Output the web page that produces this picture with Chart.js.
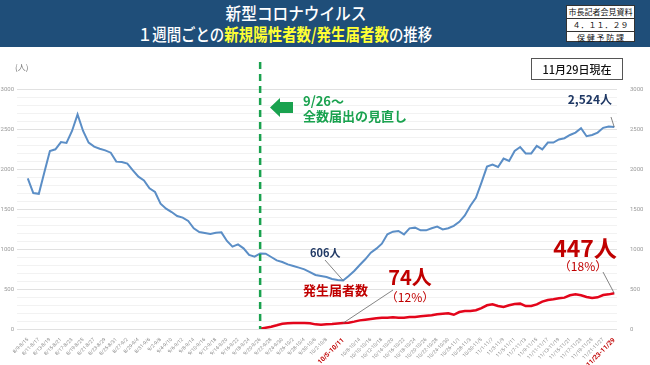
<!DOCTYPE html>
<html>
<head>
<meta charset="utf-8">
<script src="https://cdn.jsdelivr.net/npm/chart.js@4"></script>
<style>
  html, body { margin: 0; padding: 0; background: #fff; }
  body { width: 650px; height: 365px; position: relative; overflow: hidden; font-family: "Noto Sans CJK JP", sans-serif; }
  #banner { position: absolute; left: 0; top: 0; width: 650px; height: 47px; background: #1f4e79; }
  .t { position: absolute; width: 400px; text-align: center; color: #fff; white-space: nowrap; }
  .t1 { left: 96px; top: 2px; font-size: 17px; line-height: 22px; font-weight: 500; transform: scaleX(0.92); }
  .t2 { left: 85px; top: 23px; font-size: 17px; line-height: 22px; font-weight: 500; transform: scaleX(0.85); }
  .t2 b { color: #ffff33; font-weight: 700; }
  #src { position: absolute; left: 566px; top: 5px; width: 69px; height: 37px; background: #fff; border: 1px solid #333; box-sizing: border-box; }
  #src div { height: 12px; line-height: 12px; font-size: 8px; text-align: center; color: #111; border-bottom: 1px solid #333; }
  #src div:last-child { border-bottom: none; }
  #asof { position: absolute; left: 531px; top: 58px; width: 92px; height: 22px; border: 1px solid #555; box-sizing: border-box; font-size: 11px; line-height: 20px; text-align: center; color: #111; font-weight: 500; }
  #unit { position: absolute; left: 15px; top: 61px; font-size: 8px; color: #777; }
  #c { position: absolute; left: 0; top: 0; }
</style>
</head>
<body>
<canvas id="c" width="650" height="365"></canvas>
<div id="banner">
  <div class="t t1">新型コロナウイルス</div>
  <div class="t t2">１週間ごとの<b>新規陽性者数/発生届者数</b>の推移</div>
  <div id="src"><div>市長記者会見資料</div><div>４．１１．２９</div><div>保 健 予 防 課</div></div>
</div>
<div id="asof">11月29日現在</div>
<div id="unit">(人)</div>
<script>
// 1週間ごとの集計(7日間の移動合計)。最初の週は 8/9〜8/15、最後は 11/23〜11/29。
const START_END = new Date(2022, 7, 15);   // 最初の週の末日
const N_DAYS = 107;
const CUTOVER = 42;       // 9/20〜9/26 (全数届出の見直し)
const HILITE = [57, 106]; // 10/5〜10/11, 11/23〜11/29

// 新規陽性者数
const positives = [
  1883, 1700, 1690, 1960, 2225, 2246, 2337, 2325, 2475, 2683,
  2475, 2329, 2279, 2254, 2233, 2204, 2092, 2088, 2067, 1983,
  1904, 1858, 1758, 1712, 1567, 1504, 1462, 1412, 1392, 1350,
  1258, 1212, 1200, 1187, 1204, 1208, 1100, 1029, 1058, 1008,
  925, 904, 945, 941, 900, 858, 837, 808, 787, 767,
  746, 712, 675, 662, 650, 625, 612, 606, 662, 725,
  800, 871, 954, 1004, 1067, 1183, 1217, 1225, 1183, 1258,
  1267, 1233, 1233, 1260, 1280, 1245, 1260, 1290, 1340, 1420,
  1540, 1640, 1830, 2030, 2055, 2025, 2130, 2100, 2225, 2275,
  2195, 2195, 2290, 2245, 2330, 2330, 2370, 2385, 2425, 2455,
  2510, 2410, 2425, 2455, 2515, 2530, 2524
];

// 発生届者数 (9/26〜)
const notified = [
  4, 16, 29, 46, 66, 71, 75, 75, 75, 71,
  58, 54, 58, 62, 68, 74, 79, 92, 108, 117,
  125, 133, 142, 142, 146, 142, 142, 150, 150, 158,
  165, 171, 183, 192, 196, 178, 212, 225, 225, 235,
  262, 296, 308, 287, 275, 296, 312, 317, 287, 287,
  308, 342, 362, 371, 383, 392, 421, 433, 421, 400,
  387, 396, 425, 433, 447
];

const yTicks = [0, 500, 1000, 1500, 2000, 2500, 3000];

function md(d) { return (d.getMonth() + 1) + '/' + d.getDate(); }
const labels = [];
for (let i = 0; i < N_DAYS; i++) {
  const end = new Date(START_END.getTime() + i * 86400000);
  const beg = new Date(end.getTime() - 6 * 86400000);
  labels.push(md(beg) + '-' + md(end));
}
const notifiedFull = labels.map((_, i) => i < CUTOVER ? null : notified[i - CUTOVER]);

const BLUE = '#5b8ec6', RED = '#e3051b', DRED = '#c00000', NAVY = '#1f3864', GREEN = '#1aa24f';

function xLabelShown(i) {
  if (HILITE.includes(i)) return true;
  if (HILITE.some(h => Math.abs(h - i) === 1)) return false;
  return i % 2 === 0;
}

const notas = {
  id: 'notas',
  afterDatasetsDraw(chart) {
    const c = chart.ctx, x = chart.scales.x, y = chart.scales.y;
    c.save();
    // línea de corte 9/26
    const xc = x.getPixelForValue(CUTOVER);
    c.strokeStyle = GREEN; c.lineWidth = 2.5; c.setLineDash([7, 5]);
    c.beginPath(); c.moveTo(xc, 62); c.lineTo(xc, y.getPixelForValue(0)); c.stroke();
    c.setLineDash([]);
    // flecha
    c.fillStyle = GREEN;
    c.beginPath();
    c.moveTo(270, 107.5); c.lineTo(280, 98); c.lineTo(280, 102); c.lineTo(293, 102);
    c.lineTo(293, 113); c.lineTo(280, 113); c.lineTo(280, 117); c.closePath(); c.fill();
    c.textBaseline = 'middle'; c.textAlign = 'left';
    c.font = 'bold 13px "Noto Sans CJK JP"';
    c.fillText('9/26～', 303, 101);
    c.fillText('全数届出の見直し', 303, 116);

    // líneas guía
    c.strokeStyle = '#666'; c.lineWidth = 0.8;
    const guia = (x1, y1, i, v) => {
      c.beginPath(); c.moveTo(x1, y1); c.lineTo(x.getPixelForValue(i), y.getPixelForValue(v)); c.stroke();
    };
    guia(325, 260, 57, positives[57]);
    guia(393, 290, 57, notified[57 - CUTOVER]);
    guia(611, 117, 106, positives[106]);
    guia(603, 272, 106, notified[106 - CUTOVER]);

    // textos
    c.fillStyle = NAVY; c.font = 'bold 11px "Noto Sans CJK JP"';
    c.fillText(positives[57] + '人', 310, 253);
    c.font = 'bold 12px "Noto Sans CJK JP"'; c.textAlign = 'right';
    c.fillText(positives[106].toLocaleString('en-US') + '人', 612, 99);

    c.fillStyle = DRED; c.textAlign = 'left';
    c.font = 'bold 13px "Noto Sans CJK JP"';
    c.fillText('発生届者数', 303, 290);
    c.textAlign = 'center';
    c.font = 'bold 20px "Noto Sans CJK JP"';
    c.fillText(notified[57 - CUTOVER] + '人', 410, 277);
    c.font = '12px "Noto Sans CJK JP"';
    c.fillText('（12%）', 410, 297);
    c.font = 'bold 23px "Noto Sans CJK JP"';
    c.fillText(notified[106 - CUTOVER] + '人', 585, 248);
    c.font = '12px "Noto Sans CJK JP"';
    c.fillText('（18%）', 583, 266);
    c.restore();
  }
};

new Chart(document.getElementById('c'), {
  type: 'line',
  data: {
    labels: labels,
    datasets: [
      { label: '新規陽性者数', data: positives, borderColor: BLUE, borderWidth: 2,
        pointRadius: 0, tension: 0, yAxisID: 'y' },
      { label: '発生届者数', data: notifiedFull, borderColor: RED, borderWidth: 2.5,
        pointRadius: 0, tension: 0, yAxisID: 'y1' },
    ],
  },
  options: {
    responsive: false, animation: false, events: [],
    layout: { padding: { top: 89, left: 0, right: 0, bottom: 0 } },
    plugins: { legend: { display: false }, tooltip: { enabled: false } },
    scales: {
      x: {
        offset: true,
        grid: { display: false }, border: { display: false },
        afterFit: s => { s.height = 36; },
        ticks: {
          autoSkip: false, minRotation: 45, maxRotation: 45, padding: 0,
          callback: (v, i) => xLabelShown(i) ? labels[i] : '',
          color: ctx => HILITE.includes(ctx.index) ? DRED : '#8a8a8a',
          font: ctx => HILITE.includes(ctx.index)
            ? { family: 'Roboto', size: 6.6, weight: 'bold', lineHeight: 1 }
            : { family: 'Roboto', size: 5, lineHeight: 1 },
        },
      },
      y: {
        min: 0, max: 3000,
        afterFit: s => { s.width = 25; },
        border: { display: false },
        grid: { color: ctx => ctx.tick && ctx.tick.value % 500 === 0 ? '#d9d9d9' : '#efefef', lineWidth: 0.8 },
        ticks: { stepSize: 100, autoSkip: false, padding: 3, color: '#9a9a9a', font: { family: 'Roboto', size: 6 },
          callback: v => yTicks.includes(v) ? String(v) : '' },
      },
      y1: {
        position: 'right', min: 0, max: 3000,
        afterFit: s => { s.width = 33; },
        border: { display: false },
        grid: { drawOnChartArea: false, display: false },
        ticks: { stepSize: 500, autoSkip: false, padding: 5, color: '#9a9a9a', font: { family: 'Roboto', size: 6 },
          callback: v => String(v) },
      },
    },
  },
  plugins: [notas],
});
</script>
</body>
</html>
